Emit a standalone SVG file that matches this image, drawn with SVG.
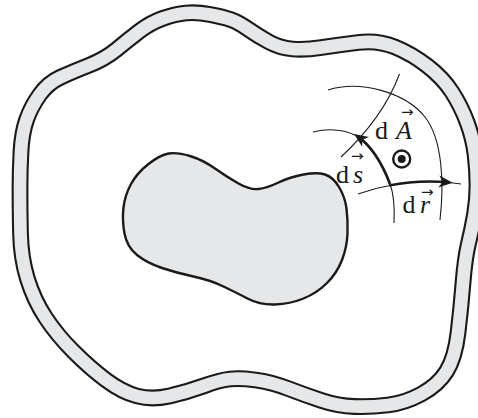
<svg xmlns="http://www.w3.org/2000/svg" width="478" height="418" viewBox="0 0 478 418">
<defs>
<style>
.thin{fill:none;stroke:#1a1a1a;stroke-width:1.1}
.thick{fill:none;stroke:#1a1a1a;stroke-width:2.7;marker-end:url(#ah)}
</style>
<marker id="ah" markerUnits="userSpaceOnUse" markerWidth="18" markerHeight="14" viewBox="-15 -7 18 14" refX="-4" refY="0" orient="auto">
<path d="M0,0 L-14,-6 L-10,0 L-14,6 Z" fill="#1a1a1a"/>
</marker>
<path id="band" d="M 20,189 Q 20,208 20.5,233 Q 21,258 27.5,279 Q 34,300 45.5,317.5 Q 57,335 73.5,351.5 Q 90,368 106,380 Q 122,392 137,396 Q 152,400 169.5,396 Q 187,392 203.5,386 Q 220,380 230,379 Q 240,378 255.5,380 Q 271,382 288,388.5 Q 305,395 321.5,400.5 Q 338,406 354.5,406.5 Q 371,407 388,405 Q 405,403 421.5,394 Q 438,385 446.5,371.5 Q 455,358 458,333 Q 461,308 463,283 Q 465,258 468.5,243.5 Q 472,229 474.5,214.5 Q 477,200 477,185 Q 477,170 475,154 Q 473,138 467,122 Q 461,106 452,92 Q 443,78 427.5,66 Q 412,54 395,47 Q 378,40 358,42.5 Q 338,45 321.5,47.5 Q 305,50 292.5,49 Q 280,48 269,42 Q 258,36 248,29 Q 238,22 230.5,19.5 Q 223,17 210,14.5 Q 197,12 186,13 Q 175,14 162.5,18.5 Q 150,23 139,31.5 Q 128,40 116.5,49.5 Q 105,59 88.5,65.5 Q 72,72 60,77.5 Q 48,83 39.5,95 Q 31,107 26.5,120 Q 22,133 21,151.5 Q 20,170 20,189 Z"/>
</defs>
<rect width="478" height="418" fill="#ffffff"/>
<g id="outer-band">
<use href="#band" fill="#ffffff" stroke="#1a1a1a" stroke-width="16.8"/>
<use href="#band" fill="none" stroke="#e6e7e8" stroke-width="12.6"/>
</g>
<g id="inner-region">
<path d="M 123.5,207.5 Q 122,220 124.5,233.5 Q 127,247 137,255 Q 147,263 162,268 Q 177,273 193.5,276.5 Q 210,280 223.5,286.5 Q 237,293 248.5,299 Q 260,305 275,304.5 Q 290,304 303.5,298.5 Q 317,293 327,283 Q 337,273 342,260 Q 347,247 347.5,233.5 Q 348,220 346.5,208.5 Q 345,197 339,187 Q 333,177 325,174.5 Q 317,172 303.5,174.5 Q 290,177 278.5,182.5 Q 267,188 258.5,189 Q 250,190 238.5,183.5 Q 227,177 215,168.5 Q 203,160 190,156 Q 177,152 168.5,153.5 Q 160,155 148.5,164 Q 137,173 131,184 Q 125,195 123.5,207.5 Z" fill="#e6e7e8" stroke="#1a1a1a" stroke-width="2.4"/>
</g>
<g id="connectors">
<path class="thin" d="M328,90 C360,80 405,92 425,117 C443,140 444,185 440,220"/>
<path class="thin" d="M313,132 Q337,126 357.4,136.2"/>
<path class="thin" d="M390,184 Q395.2,197.6 394,223"/>
<path class="thin" d="M399.5,74 Q383,118 341,157"/>
<path class="thin" d="M358,194 Q410,176 461,184"/>
<path class="thick" d="M390,184 Q377,150 357.4,136.2"/>
<path class="thick" d="M389.1,185.5 Q419.1,179.6 448.75,182.45"/>
</g>
<g id="surface-normal">
<circle cx="401.7" cy="159" r="8.5" fill="#ffffff" stroke="#1a1a1a" stroke-width="2.4"/>
<circle cx="401.7" cy="159" r="4" fill="#1a1a1a"/>
</g>
<g id="labels" fill="#1a1a1a">
<text x="375" y="139" font-family="'Liberation Serif', 'DejaVu Serif', serif" font-size="26">d<tspan x="396" font-style="italic">A</tspan></text>
<text x="401" y="117" font-family="'DejaVu Sans', sans-serif" font-size="15">→</text>
<text x="336" y="183" font-family="'Liberation Serif', 'DejaVu Serif', serif" font-size="26">d<tspan x="353" font-style="italic">s</tspan></text>
<text x="351" y="161" font-family="'DejaVu Sans', sans-serif" font-size="15">→</text>
<text x="402.5" y="212.5" font-family="'Liberation Serif', 'DejaVu Serif', serif" font-size="26">d<tspan x="420" font-style="italic">r</tspan></text>
<text x="421" y="197" font-family="'DejaVu Sans', sans-serif" font-size="15">→</text>
</g>
</svg>
